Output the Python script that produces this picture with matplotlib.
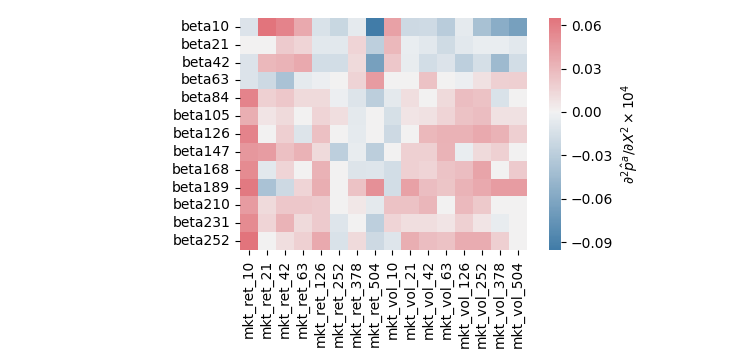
import numpy as np
import pandas as pd
import seaborn as sns
import matplotlib.pyplot as plt

# 行列标签
row_labels = ['beta10', 'beta21', 'beta42', 'beta63', 'beta84', 'beta105', 'beta126',
              'beta147', 'beta168', 'beta189', 'beta210', 'beta231', 'beta252']
col_labels = ['mkt_ret_10', 'mkt_ret_21', 'mkt_ret_42', 'mkt_ret_63', 'mkt_ret_126',
              'mkt_ret_252', 'mkt_ret_378', 'mkt_ret_504', 'mkt_vol_10', 'mkt_vol_21',
              'mkt_vol_42', 'mkt_vol_63', 'mkt_vol_126', 'mkt_vol_252', 'mkt_vol_378',
              'mkt_vol_504']

# 每行的数值 (x 1e4)
beta10 = [-0.012, 0.065, 0.057, 0.038, -0.013, -0.022, -0.006, -0.0955, 0.042, -0.020, -0.019, -0.030, -0.006, -0.040, -0.055, -0.066]
beta21 = [0.000, 0.000, 0.020, 0.015, -0.008, -0.008, 0.015, -0.028, 0.030, -0.004, -0.008, -0.018, -0.008, -0.004, -0.004, -0.008]
beta42 = [-0.012, 0.030, 0.032, 0.038, -0.017, -0.017, 0.012, -0.066, 0.022, -0.005, -0.017, -0.012, -0.028, -0.015, -0.045, -0.017]
beta63 = [-0.012, -0.020, -0.038, -0.006, -0.003, 0.000, 0.016, 0.045, 0.000, 0.000, 0.025, 0.000, -0.003, 0.008, 0.017, 0.018]
beta84 = [0.057, 0.017, 0.022, 0.012, 0.012, -0.003, -0.011, -0.029, -0.007, 0.010, 0.000, 0.012, 0.027, 0.025, -0.013, 0.000]
beta105 = [0.035, 0.007, 0.012, 0.000, 0.015, 0.010, -0.007, 0.000, -0.014, 0.007, 0.008, 0.015, 0.025, 0.027, 0.008, 0.008]
beta126 = [0.057, 0.000, 0.018, -0.011, 0.026, 0.000, -0.006, 0.000, -0.020, 0.000, 0.030, 0.033, 0.033, 0.038, 0.033, 0.018]
beta147 = [0.047, 0.044, 0.026, 0.033, 0.012, -0.028, -0.005, -0.029, 0.000, 0.017, 0.017, 0.032, -0.004, 0.012, 0.017, 0.000]
beta168 = [0.053, -0.008, 0.015, 0.000, 0.033, 0.000, -0.011, -0.010, -0.017, 0.017, 0.015, 0.024, 0.027, 0.040, 0.000, 0.020]
beta189 = [0.062, -0.038, -0.020, 0.015, 0.035, 0.000, 0.025, 0.050, -0.017, 0.042, 0.027, 0.023, 0.032, 0.038, 0.044, 0.044]
beta210 = [0.045, 0.012, 0.022, 0.022, 0.020, 0.000, 0.006, -0.007, 0.025, 0.025, 0.031, 0.000, 0.029, 0.021, 0.000, 0.000]
beta231 = [0.053, 0.015, 0.032, 0.012, 0.020, -0.010, 0.000, -0.028, 0.015, 0.010, 0.010, 0.007, 0.017, 0.007, -0.005, 0.000]
beta252 = [0.065, 0.000, 0.010, 0.017, 0.038, -0.013, 0.012, -0.020, -0.010, 0.035, 0.027, 0.025, 0.036, 0.036, 0.018, 0.000]

values = [beta10, beta21, beta42, beta63, beta84, beta105, beta126,
          beta147, beta168, beta189, beta210, beta231, beta252]
df = pd.DataFrame(values, index=row_labels, columns=col_labels)

# 画图
fig = plt.figure(figsize=(7.29, 3.64), dpi=100)
ax = fig.add_axes([240 / 729, 114 / 364, 287 / 729, 232 / 364])
cax = fig.add_axes([549 / 729, 114 / 364, 12 / 729, 232 / 364])

cmap = sns.diverging_palette(240, 10, as_cmap=True)
sns.heatmap(df, ax=ax, cbar_ax=cax, cmap=cmap, center=0,
            cbar_kws={'label': r'$\partial^2 \hat{p}^a / \partial X^2 \times 10^4$',
                      'ticks': [-0.09, -0.06, -0.03, 0.0, 0.03, 0.06]})
cax.yaxis.set_major_formatter(plt.FuncFormatter(lambda v, p: '{:.2f}'.format(v).replace('-', '\u2212')))
ax.set_yticklabels(row_labels, rotation=0)
ax.set_xticklabels(col_labels, rotation=90)

fig.savefig('out.png', dpi=100)
